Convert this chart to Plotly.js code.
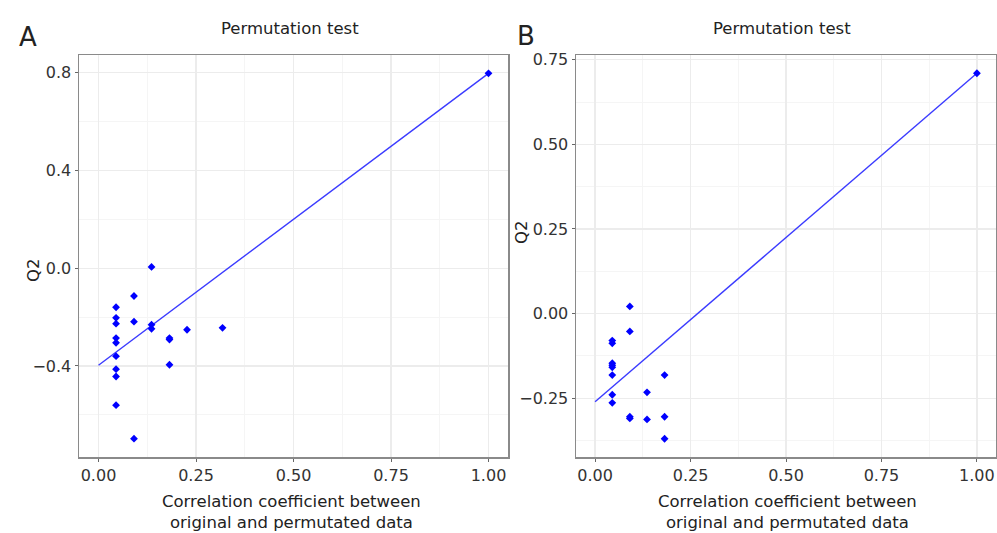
<!DOCTYPE html>
<html>
<head>
<meta charset="utf-8">
<script src="https://cdn.plot.ly/plotly-3.0.1.min.js"></script>
<style>html,body{margin:0;padding:0;background:#fff;}#chart{width:997px;height:533px;}</style>
</head>
<body>
<div id="chart"></div>
<script>
// Panel A data
const xA = [0.136, 0.091, 0.045, 0.045, 0.045, 0.091, 0.136, 0.136, 0.045, 0.045, 0.182, 0.182, 0.227, 0.318, 0.045, 0.182, 0.045, 0.045, 0.045, 0.091, 1.0];
const yA = [0.005, -0.114, -0.160, -0.203, -0.227, -0.219, -0.231, -0.248, -0.286, -0.305, -0.286, -0.292, -0.252, -0.244, -0.360, -0.395, -0.413, -0.443, -0.560, -0.697, 0.796];
const lineAx = [0, 1];
const lineAy = [-0.397, 0.796];
// Panel B data
const xB = [0.091, 0.091, 0.045, 0.045, 0.045, 0.045, 0.045, 0.045, 0.182, 0.136, 0.045, 0.045, 0.091, 0.091, 0.136, 0.182, 0.182, 1.0];
const yB = [0.021, -0.053, -0.080, -0.088, -0.147, -0.153, -0.159, -0.182, -0.182, -0.233, -0.240, -0.264, -0.305, -0.310, -0.313, -0.305, -0.370, 0.710];
const lineBx = [0, 1];
const lineBy = [-0.261, 0.710];
// Tick labels
const xTicks = [0, 0.25, 0.5, 0.75, 1.0];
const xTickText = ['0.00', '0.25', '0.50', '0.75', '1.00'];
const yTicksA = [-0.4, 0.0, 0.4, 0.8];
const yTickTextA = ['\u22120.4', '0.0', '0.4', '0.8'];
const yTicksB = [-0.25, 0.0, 0.25, 0.5, 0.75];
const yTickTextB = ['\u22120.25', '0.00', '0.25', '0.50', '0.75'];

const font = 'DejaVu Sans, Liberation Sans, Arial, sans-serif';
const ptColor = '#0000ff';
const lnColor = '#3b3bff';

const traces = [
  {x: lineAx, y: lineAy, mode: 'lines', line: {color: lnColor, width: 1.4}, xaxis: 'x', yaxis: 'y', hoverinfo: 'skip'},
  {x: xA, y: yA, mode: 'markers', marker: {symbol: 'diamond', size: 6, color: ptColor}, xaxis: 'x', yaxis: 'y'},
  {x: lineBx, y: lineBy, mode: 'lines', line: {color: lnColor, width: 1.4}, xaxis: 'x2', yaxis: 'y2', hoverinfo: 'skip'},
  {x: xB, y: yB, mode: 'markers', marker: {symbol: 'diamond', size: 6, color: ptColor}, xaxis: 'x2', yaxis: 'y2'}
];

function axisBase(extra) {
  return Object.assign({
    showline: true, mirror: true, linecolor: '#8a8a8a', linewidth: 1.5,
    ticks: 'outside', ticklen: 3, tickcolor: '#666', tickwidth: 1,
    showgrid: true, gridcolor: '#ececec', gridwidth: 1.2,
    zeroline: false,
    tickfont: {family: font, size: 16, color: '#333'},
    tickmode: 'array'
  }, extra);
}

function ann(text, px, py, size, extra) {
  return Object.assign({text: text, x: px / 997, y: 1 - py / 533, xref: 'paper', yref: 'paper',
    xanchor: 'center', yanchor: 'middle', showarrow: false, font: {family: font, size: size, color: '#222'}}, extra || {});
}

const layout = {
  width: 997, height: 533,
  margin: {l: 0, r: 0, t: 0, b: 0},
  paper_bgcolor: '#fff', plot_bgcolor: '#fff',
  showlegend: false,
  xaxis: axisBase({domain: [79/997, 508/997], range: [-0.05, 1.05], tickvals: xTicks, ticktext: xTickText, anchor: 'y',
    minor: {tickvals: [0.125, 0.375, 0.625, 0.875], showgrid: true, gridcolor: '#f5f5f5', gridwidth: 1, ticks: ''}}),
  yaxis: axisBase({domain: [1 - 457/533, 1 - 55/533], range: [-0.772, 0.871], tickvals: yTicksA, ticktext: yTickTextA, anchor: 'x',
    minor: {tickvals: [-0.6, -0.2, 0.2, 0.6], showgrid: true, gridcolor: '#f5f5f5', gridwidth: 1, ticks: ''}}),
  xaxis2: axisBase({domain: [576/997, 996/997], range: [-0.05, 1.05], tickvals: xTicks, ticktext: xTickText, anchor: 'y2',
    minor: {tickvals: [0.125, 0.375, 0.625, 0.875], showgrid: true, gridcolor: '#f5f5f5', gridwidth: 1, ticks: ''}}),
  yaxis2: axisBase({domain: [1 - 457/533, 1 - 55/533], range: [-0.424, 0.764], tickvals: yTicksB, ticktext: yTickTextB, anchor: 'x2',
    minor: {tickvals: [-0.375, -0.125, 0.125, 0.375, 0.625], showgrid: true, gridcolor: '#f5f5f5', gridwidth: 1, ticks: ''}}),
  annotations: [
    ann('A', 28, 37, 26),
    ann('B', 526, 36, 26),
    ann('Permutation test', 290, 29, 16.5),
    ann('Permutation test', 782, 29, 16.5),
    ann('Q2', 33, 270, 16.5, {textangle: -90}),
    ann('Q2', 521, 232, 16.5, {textangle: -90}),
    ann('Correlation coefficient between<br>original and permutated data', 291, 512, 16.5),
    ann('Correlation coefficient between<br>original and permutated data', 787, 512, 16.5)
  ]
};

Plotly.newPlot('chart', traces, layout, {displayModeBar: false, staticPlot: true});
</script>
</body>
</html>
